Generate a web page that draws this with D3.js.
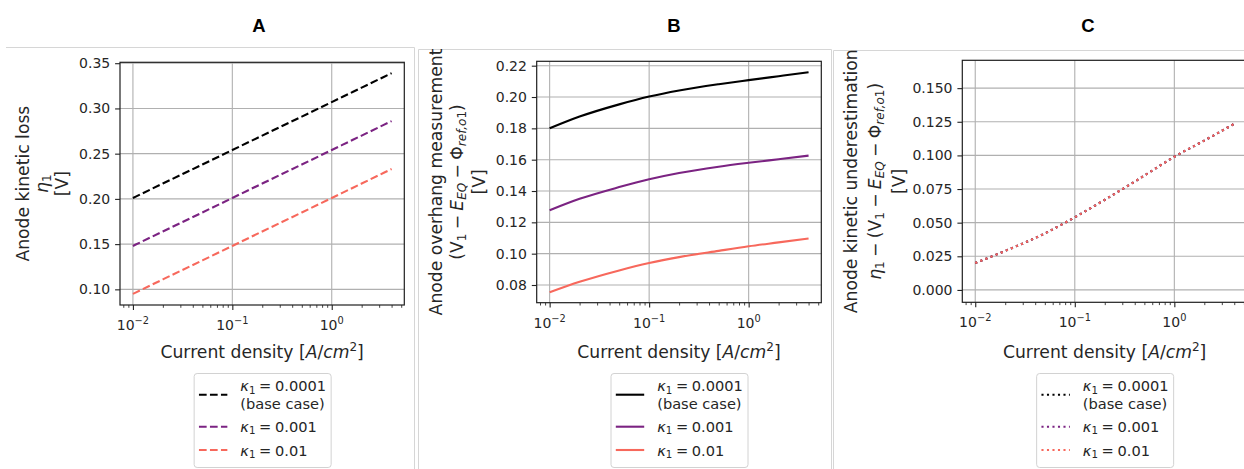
<!DOCTYPE html>
<html><head><meta charset="utf-8">
<script src="https://cdn.jsdelivr.net/npm/d3@7"></script>
<style>
body{margin:0;background:#fff;}
svg{display:block;font-family:"DejaVu Sans",sans-serif;}
</style>
</head><body>
<svg id="chart" width="1244" height="469"></svg>
<script>
// ---------------- data ----------------
const currentDensity = [0.01, 0.02, 0.05, 0.1, 0.2, 0.5, 1, 2, 4];
const kappaValues = ["0.0001", "0.001", "0.01"];
const panelTitles = ["A", "B", "C"];

// Panel A: anode kinetic loss eta_1 [V]
const lossK0001 = [0.201, 0.217, 0.238, 0.254, 0.270, 0.291, 0.307, 0.323, 0.339];
const lossK001  = [0.148, 0.164, 0.185, 0.201, 0.217, 0.238, 0.254, 0.270, 0.286];
const lossK01   = [0.095, 0.111, 0.132, 0.148, 0.164, 0.185, 0.201, 0.217, 0.233];

// Panel B: anode overhang measurement [V]
const overK0001 = [0.1800, 0.1875, 0.1953, 0.2003, 0.2042, 0.2082, 0.2108, 0.2133, 0.2158];
const overK001  = [0.1277, 0.1350, 0.1425, 0.1475, 0.1515, 0.1555, 0.1580, 0.1603, 0.1626];
const overK01   = [0.0753, 0.0820, 0.0893, 0.0940, 0.0978, 0.1018, 0.1047, 0.1072, 0.1097];

// Panel C: anode kinetic underestimation [V]
const underK0001 = [0.020, 0.029, 0.042, 0.054, 0.067, 0.085, 0.099, 0.111, 0.1235];
const underK001  = [0.020, 0.029, 0.042, 0.054, 0.067, 0.085, 0.099, 0.111, 0.1235];
const underK01   = [0.020, 0.029, 0.042, 0.054, 0.067, 0.085, 0.099, 0.111, 0.1235];

const xMajorTicks = [0.01, 0.1, 1];
const xTickExponents = ["\u22122", "\u22121", "0"];
const yTicksA = [0.10, 0.15, 0.20, 0.25, 0.30, 0.35];
const yTicksB = [0.08, 0.10, 0.12, 0.14, 0.16, 0.18, 0.20, 0.22];
const yTicksC = [0.000, 0.025, 0.050, 0.075, 0.100, 0.125, 0.150];

// ---------------- styles ----------------
const seriesColors = ["#000000", "#7b2382", "#f7685c"];
const FONT_TICK = 14, FONT_LABEL = 17.2, FONT_LEG = 14.6;
const SP = "\u2005";

const svg = d3.select("#chart");

// panel frames
const frame = svg.append("g").attr("fill", "none").attr("stroke", "#d6d6d6").attr("stroke-width", 1);
frame.append("path").attr("d", "M6,47.5H414.5V469");
frame.append("path").attr("d", "M418.5,469V49.5H831.5V469");
frame.append("path").attr("d", "M833.5,469V50.5H1244");

function richText(sel, segs, fs) {
  let shift = 0;
  segs.forEach(sg => {
    const target = sg.sub ? 0.2 * fs : (sg.sup ? -0.42 * fs : 0);
    const ts = sel.append("tspan").text(sg.t).attr("dy", target - shift);
    shift = target;
    if (sg.i) ts.attr("font-style", "italic");
    if (sg.sub || sg.sup) ts.attr("font-size", fs * 0.7);
  });
}

function drawPanel(p) {
  const x = d3.scaleLog().domain([Math.pow(10, -2.13), Math.pow(10, 0.73)]).range([p.left, p.right]);
  const y = d3.scaleLinear().domain(p.yDomain).range([p.bottom, p.top]);
  const g = svg.append("g");

  // title
  g.append("text").attr("x", p.titleX).attr("y", 31.5).attr("text-anchor", "middle")
    .attr("font-family", "'Liberation Sans', Arial, sans-serif").attr("font-weight", "bold")
    .attr("font-size", 18.5).attr("fill", "#000").text(p.title);

  // grid
  const grid = g.append("g").attr("stroke", "#b0b0b0").attr("stroke-width", 1.1);
  xMajorTicks.forEach(t => grid.append("line").attr("x1", x(t)).attr("x2", x(t)).attr("y1", p.top).attr("y2", p.bottom));
  p.yTicks.forEach(t => grid.append("line").attr("y1", y(t)).attr("y2", y(t)).attr("x1", p.left).attr("x2", p.right));

  // series
  const line = d3.line().x((d, i) => x(currentDensity[i])).y(d => y(d)).curve(d3.curveMonotoneX);
  p.series.forEach((s, k) => {
    g.append("path").datum(s).attr("d", line).attr("fill", "none")
      .attr("stroke", seriesColors[k]).attr("stroke-width", 2.1)
      .attr("stroke-dasharray", p.dash).attr("stroke-linecap", "butt");
  });

  // axes
  const yAxis = d3.axisLeft(y).tickValues(p.yTicks).tickFormat(d3.format(p.fmt)).tickSize(4.9).tickPadding(4.9).tickSizeOuter(0);
  const ya = g.append("g").attr("transform", `translate(${p.left},0)`).call(yAxis);
  ya.select(".domain").remove();
  ya.selectAll("line").attr("stroke", "#222").attr("stroke-width", 1.1);
  ya.selectAll("text").attr("font-size", FONT_TICK).attr("fill", "#262626").attr("font-family", "DejaVu Sans");

  const xAxis = d3.axisBottom(x).tickValues(xMajorTicks).tickFormat("").tickSize(4.9).tickSizeOuter(0);
  const xa = g.append("g").attr("transform", `translate(0,${p.bottom})`).call(xAxis);
  xa.select(".domain").remove();
  xa.selectAll("line").attr("stroke", "#222").attr("stroke-width", 1.1);
  const minor = [];
  [-3, -2, -1, 0].forEach(e => { for (let m = 2; m <= 9; m++) { const v = m * Math.pow(10, e); if (v >= x.domain()[0] && v <= x.domain()[1]) minor.push(v); } });
  const xm = g.append("g").attr("transform", `translate(0,${p.bottom})`)
    .call(d3.axisBottom(x).tickValues(minor).tickFormat("").tickSize(2.8).tickSizeOuter(0));
  xm.select(".domain").remove();
  xm.selectAll("line").attr("stroke", "#222").attr("stroke-width", 0.85);

  xMajorTicks.forEach((t, i) => {
    const tx = g.append("text").attr("x", x(t)).attr("y", p.bottom + 25).attr("text-anchor", "middle")
      .attr("font-size", FONT_TICK).attr("fill", "#262626");
    richText(tx, [{t: "10"}, {t: xTickExponents[i], sup: true}], FONT_TICK);
  });

  // spines
  g.append("rect").attr("x", p.left).attr("y", p.top).attr("width", p.right - p.left).attr("height", p.bottom - p.top)
    .attr("fill", "none").attr("stroke", "#1e1e1e").attr("stroke-width", 1.2);

  // x label
  const cx = (p.left + p.right) / 2;
  const xl = g.append("text").attr("x", cx).attr("y", 358).attr("text-anchor", "middle")
    .attr("font-size", FONT_LABEL).attr("fill", "#262626");
  richText(xl, [{t: "Current density ["}, {t: "A", i: true}, {t: "/"}, {t: "cm", i: true}, {t: "2", sup: true}, {t: "]"}], FONT_LABEL);

  // y label (three lines)
  const cy = (p.top + p.bottom) / 2;
  p.ylab.forEach((segs, li) => {
    const t = g.append("text").attr("transform", `translate(${p.ylabX[li]},${cy}) rotate(-90)`)
      .attr("text-anchor", "middle").attr("font-size", FONT_LABEL).attr("fill", "#262626");
    richText(t, segs, FONT_LABEL);
  });

  // legend
  const lw = 137, lh = 94, lx = cx - lw / 2, ly = 373;
  const lg = g.append("g").attr("transform", `translate(${lx},${ly})`);
  lg.append("rect").attr("x", 0.5).attr("y", 0.5).attr("width", lw).attr("height", lh).attr("rx", 3)
    .attr("fill", "#fff").attr("stroke", "#d2d2d2").attr("stroke-width", 1);
  const rows = [{ly: 21.7, tb: [17.7, 35.5]}, {ly: 53.7, tb: [58.5]}, {ly: 77, tb: [82.5]}];
  rows.forEach((r, k) => {
    lg.append("line").attr("x1", 5.3).attr("x2", 33.7).attr("y1", r.ly).attr("y2", r.ly)
      .attr("stroke", seriesColors[k]).attr("stroke-width", 2.1).attr("stroke-dasharray", p.dash);
    const t = lg.append("text").attr("x", 46.7).attr("y", r.tb[0]).attr("font-size", FONT_LEG).attr("fill", "#262626");
    richText(t, [{t: "\u03ba", i: true}, {t: "1", sub: true}, {t: SP + "=" + SP + kappaValues[k]}], FONT_LEG);
    if (k === 0) {
      lg.append("text").attr("x", 46.7).attr("y", r.tb[1]).attr("font-size", FONT_LEG).attr("fill", "#262626").text("(base case)");
    }
  });
}

const V1 = [{t: "(V"}, {t: "1", sub: true}, {t: SP + "\u2212" + SP}, {t: "E", i: true}, {t: "EQ", i: true, sub: true}, {t: SP + "\u2212" + SP + "\u03a6"}, {t: "ref,o", i: true, sub: true}, {t: "1", sub: true}, {t: ")"}];

drawPanel({
  title: panelTitles[0], titleX: 259,
  left: 120, right: 404.3, top: 62.3, bottom: 305,
  yDomain: [0.0827, 0.351], yTicks: yTicksA, fmt: ".2f",
  series: [lossK0001, lossK001, lossK01], dash: "7.7,3.3",
  ylabX: [28.5, 48, 67.5],
  ylab: [[{t: "Anode kinetic loss"}], [{t: "\u03b7", i: true}, {t: "1", sub: true}], [{t: "[V]"}]]
});

drawPanel({
  title: panelTitles[1], titleX: 674,
  left: 536.7, right: 821.3, top: 61.3, bottom: 302.7,
  yDomain: [0.0687, 0.2228], yTicks: yTicksB, fmt: ".2f",
  series: [overK0001, overK001, overK01], dash: null,
  ylabX: [441.5, 463, 484.7],
  ylab: [[{t: "Anode overhang measurement"}], V1, [{t: "[V]"}]]
});

drawPanel({
  title: panelTitles[2], titleX: 1088,
  left: 962.3, right: 1247, top: 60.3, bottom: 302.3,
  yDomain: [-0.0092, 0.1707], yTicks: yTicksC, fmt: ".3f",
  series: [underK0001, underK001, underK01], dash: "2.1,3.4",
  ylabX: [857, 881, 904.5],
  ylab: [[{t: "Anode kinetic underestimation"}], [{t: "\u03b7", i: true}, {t: "1", sub: true}, {t: SP + "\u2212" + SP}].concat(V1), [{t: "[V]"}]]
});
</script>
</body></html>
